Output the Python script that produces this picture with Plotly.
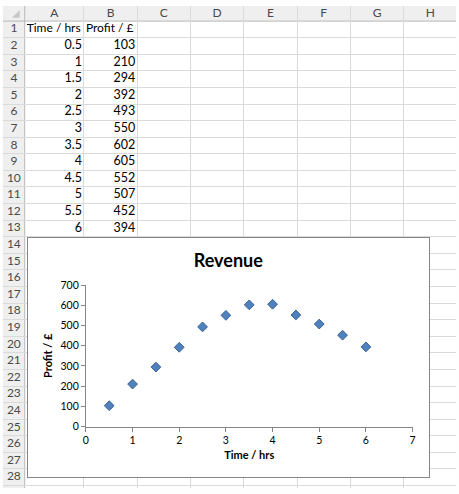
import plotly.graph_objects as go

# ---------------- data ----------------
time_hrs = [0.5, 1, 1.5, 2, 2.5, 3, 3.5, 4, 4.5, 5, 5.5, 6]
profit = [103, 210, 294, 392, 493, 550, 602, 605, 552, 507, 452, 394]
col_letters = ["A", "B", "C", "D", "E", "F", "G", "H"]
header_cells = ["Time / hrs", "Profit / £"]
row_labels = [str(i) for i in range(1, 29)]
x_ticks = [0, 1, 2, 3, 4, 5, 6, 7]
y_ticks = [0, 100, 200, 300, 400, 500, 600, 700]

# ---------------- sheet layout (pixels) ----------------
W, H = 459, 494
ROWHDR_W = 22
COLHDR_H = 15.5
ROW_H = 17
col_widths = [60] + [54] * 7
col_left = []
acc = ROWHDR_W
for w in col_widths:
    col_left.append(acc)
    acc += w
col_right = [l + w for l, w in zip(col_left, col_widths)]
row_top = [COLHDR_H + ROW_H * i for i in range(len(row_labels))]
row_mid = [t + ROW_H / 2 for t in row_top]

FONT = "Lato"
fig = go.Figure()

# column letters
fig.add_trace(go.Scatter(
    x=[(l + r) / 2 for l, r in zip(col_left, col_right)],
    y=[COLHDR_H / 2] * len(col_letters),
    text=col_letters, mode="text", textposition="middle center",
    textfont=dict(family=FONT, size=12, color="#4a4a4a"),
    hoverinfo="skip", showlegend=False, xaxis="x", yaxis="y"))
# row numbers
fig.add_trace(go.Scatter(
    x=[ROWHDR_W / 2] * len(row_labels), y=row_mid,
    text=row_labels, mode="text", textposition="middle center",
    textfont=dict(family=FONT, size=12, color="#4a4a4a"),
    hoverinfo="skip", showlegend=False, xaxis="x", yaxis="y"))
# header cells (left aligned)
fig.add_trace(go.Scatter(
    x=[col_left[0] + 2, col_left[1] + 2], y=[row_mid[0]] * 2,
    text=header_cells, mode="text", textposition="middle right",
    textfont=dict(family=FONT, size=12, color="black"),
    hoverinfo="skip", showlegend=False, xaxis="x", yaxis="y"))
# numeric cells (right aligned)
fig.add_trace(go.Scatter(
    x=[col_right[0] - 2] * len(time_hrs), y=row_mid[1:1 + len(time_hrs)],
    text=[f"{v:g}" for v in time_hrs], mode="text", textposition="middle left",
    textfont=dict(family=FONT, size=12.5, color="black"),
    hoverinfo="skip", showlegend=False, xaxis="x", yaxis="y"))
fig.add_trace(go.Scatter(
    x=[col_right[1] - 2] * len(profit), y=row_mid[1:1 + len(profit)],
    text=[f"{v:g}" for v in profit], mode="text", textposition="middle left",
    textfont=dict(family=FONT, size=12.5, color="black"),
    hoverinfo="skip", showlegend=False, xaxis="x", yaxis="y"))

# empty trace to create the chart-area subplot
fig.add_trace(go.Scatter(x=[], y=[], xaxis="x2", yaxis="y2", showlegend=False))

# chart data
fig.add_trace(go.Scatter(
    x=time_hrs, y=profit, mode="markers", name="Profit / £",
    marker=dict(symbol="diamond", size=7.5, color="#4f81bd",
                line=dict(color="#3a6294", width=1)),
    xaxis="x3", yaxis="y3", showlegend=False))

# chart geometry in pixels
CH_L, CH_R, CH_T, CH_B = 25, 431.5, 238, 482.5
PL_L, PL_R, PL_T, PL_B = 84, 415, 286, 431

def xd(a, b):
    return [a / W, b / W]

def yd(t, b):
    return [1 - b / H, 1 - t / H]

grid = "#dadada"
fig.update_layout(
    width=W, height=H, autosize=False,
    margin=dict(l=0, r=0, t=0, b=0, pad=0),
    paper_bgcolor="#fefefe", plot_bgcolor="white",
    showlegend=False,
    xaxis=dict(domain=[0, 1], range=[0, W], tickvals=col_right, showgrid=True,
               gridcolor=grid, gridwidth=1, showticklabels=False, ticks="",
               zeroline=False, showline=False, fixedrange=True),
    yaxis=dict(domain=[0, 1], range=[H, 0], tickvals=row_top[1:] + [row_top[-1] + ROW_H],
               showgrid=True, gridcolor=grid, gridwidth=1, showticklabels=False,
               ticks="", zeroline=False, showline=False, fixedrange=True),
    xaxis2=dict(domain=xd(CH_L, CH_R), range=[0, 1], showline=True, mirror=True,
                linecolor="#868686", linewidth=1, showgrid=False, zeroline=False,
                showticklabels=False, ticks="", anchor="y2", fixedrange=True),
    yaxis2=dict(domain=yd(CH_T, CH_B), range=[0, 1], showline=True, mirror=True,
                linecolor="#868686", linewidth=1, showgrid=False, zeroline=False,
                showticklabels=False, ticks="", anchor="x2", fixedrange=True),
    xaxis3=dict(domain=xd(PL_L, PL_R), range=[0, 7], tickvals=x_ticks,
                showline=True, linecolor="#868686", linewidth=1, ticks="outside",
                ticklen=4, tickcolor="#868686", showgrid=False, zeroline=False,
                tickfont=dict(family=FONT, size=10.5, color="black"), anchor="y3",
                title=dict(text="<b>Time / hrs</b>", standoff=6,
                           font=dict(family=FONT, size=11, color="black")),
                fixedrange=True),
    yaxis3=dict(domain=yd(PL_T, PL_B), range=[0, 700], tickvals=y_ticks,
                showline=True, linecolor="#868686", linewidth=1, ticks="outside",
                ticklen=4, tickcolor="#868686", showgrid=False, zeroline=False,
                tickfont=dict(family=FONT, size=10.5, color="black"), anchor="x3",
                title=dict(text="<b>Profit / £</b>", standoff=5,
                           font=dict(family=FONT, size=11, color="black")),
                fixedrange=True),
    title=dict(text="<b>Revenue</b>", x=(CH_L + CH_R) / 2 / W, xanchor="center",
               y=1 - 261 / H, yanchor="middle", xref="paper", yref="paper",
               font=dict(family=FONT, size=18, color="black")),
    shapes=[
        dict(type="rect", xref="x", yref="y", x0=0, x1=W, y0=0, y1=COLHDR_H,
             fillcolor="#efefef", line_width=0, layer="below"),
        dict(type="rect", xref="x", yref="y", x0=0, x1=ROWHDR_W, y0=0, y1=H,
             fillcolor="#efefef", line_width=0, layer="below"),
        dict(type="line", xref="x", yref="y", x0=0, x1=W, y0=COLHDR_H, y1=COLHDR_H,
             line=dict(color="#b8b8b8", width=1), layer="below"),
        dict(type="line", xref="x", yref="y", x0=ROWHDR_W, x1=ROWHDR_W, y0=0, y1=H,
             line=dict(color="#b8b8b8", width=1), layer="below"),
        dict(type="path", xref="x", yref="y",
             path="M 17 4 L 17 12 L 9 12 Z", fillcolor="#c8c8c8", line_width=0,
             layer="below"),
    ],
)

fig.write_html(
    "out.html",
    config={"displayModeBar": False, "staticPlot": True},
    post_script="document.body.style.margin='0';document.body.style.overflow='hidden';",
)
